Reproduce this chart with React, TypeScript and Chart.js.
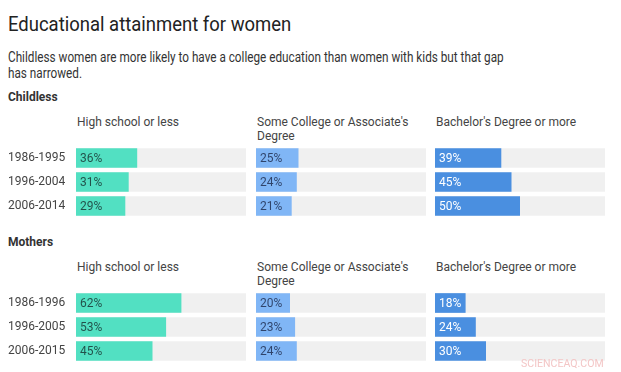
import React, { useEffect, useRef } from "react";
import { Chart, registerables } from "chart.js";
Chart.register(...registerables);

const title = "Educational attainment for women";
const subtitle = "Childless women are more likely to have a college education than women with kids but that gap has narrowed.";
const categories = ["High school or less", "Some College or Associate's Degree", "Bachelor's Degree or more"];
const childlessPeriods = ["1986-1995", "1996-2004", "2006-2014"];
const motherPeriods = ["1986-1996", "1996-2005", "2006-2015"];
const childlessHighSchool = [36, 31, 29];
const childlessSomeCollege = [25, 24, 21];
const childlessBachelor = [39, 45, 50];
const motherHighSchool = [62, 53, 45];
const motherSomeCollege = [20, 23, 24];
const motherBachelor = [18, 24, 30];

const colors = ["#52e0c2", "#80b6f6", "#4a8fe0"];
const textColors = ["rgba(20,40,40,0.78)", "rgba(20,30,60,0.75)", "#ffffff"];
const FONT = "Roboto, 'Noto Sans', sans-serif";

const valueLabelPlugin = {
  id: "valueLabels",
  afterDatasetsDraw(chart: any, _args: any, opts: any) {
    const meta = chart.getDatasetMeta(0);
    const ds = chart.data.datasets[0];
    const ctx = chart.ctx;
    ctx.save();
    ctx.font = `12px ${FONT}`;
    ctx.fillStyle = opts.color;
    ctx.textBaseline = "middle";
    ctx.textAlign = "left";
    meta.data.forEach((bar: any, i: number) => {
      ctx.fillText(ds.data[i] + "%", bar.base + 4, bar.y + 1);
    });
    ctx.restore();
  },
};

function Panel({ labels, values, colorIdx, showLabels, left, top, width }: any) {
  const ref = useRef<HTMLCanvasElement>(null);
  useEffect(() => {
    const chart = new Chart(ref.current!, {
      type: "bar",
      data: {
        labels,
        datasets: [
          { data: values, backgroundColor: colors[colorIdx], order: 1, grouped: false, categoryPercentage: 1, barPercentage: 0.82 } as any,
          { data: labels.map(() => 100), backgroundColor: "#f0f0f0", order: 2, grouped: false, categoryPercentage: 1, barPercentage: 0.82 } as any,
        ],
      },
      options: {
        indexAxis: "y",
        animation: false,
        responsive: false,
        devicePixelRatio: 1,
        layout: { padding: 0 },
        plugins: {
          legend: { display: false },
          tooltip: { enabled: false },
          valueLabels: { color: textColors[colorIdx] },
        } as any,
        scales: {
          x: { min: 0, max: 100, display: false },
          y: {
            display: showLabels,
            grid: { display: false },
            border: { display: false },
            afterFit: (s: any) => {
              if (showLabels) s.width = 68;
              s.paddingTop = 0;
              s.paddingBottom = 0;
            },
            ticks: { crossAlign: "far", padding: 0, color: "#444", font: { family: FONT, size: 12 } },
          },
        },
      },
      plugins: [valueLabelPlugin],
    });
    return () => chart.destroy();
  }, []);
  return (
    <canvas ref={ref} width={width} height={72}
      style={{ position: "absolute", left, top, width, height: 72 }} />
  );
}

function Group({ name, top, periods, series }: any) {
  const cols = [76, 256, 435];
  return (
    <>
      <div style={{ position: "absolute", left: 8, top: top, font: `bold 12px ${FONT}`, color: "#333", lineHeight: "14px" }}>{name}</div>
      {categories.map((c, i) => (
        <div key={c} style={{ position: "absolute", left: cols[i] + 1, top: top + 25, width: 160, font: `12px ${FONT}`, color: "#444", lineHeight: "14px" }}>{c}</div>
      ))}
      {series.map((vals: number[], i: number) => (
        <Panel key={i} labels={periods} values={vals} colorIdx={i} showLabels={i === 0}
          left={i === 0 ? 8 : cols[i]} top={top + 56} width={i === 0 ? 238 : 170} />
      ))}
    </>
  );
}

export default function App() {
  return (
    <div style={{ position: "fixed", left: 0, top: 0, width: 621, height: 372, background: "#fff", overflow: "hidden" }}>
      <div style={{ position: "absolute", left: 8, top: 10, font: `21px ${FONT}`, color: "#222", lineHeight: "28px", whiteSpace: "nowrap", transform: "scaleX(0.88)", transformOrigin: "0 0" }}>{title}</div>
      <div style={{ position: "absolute", left: 8, top: 49, width: 700, font: `15px ${FONT}`, color: "#333", lineHeight: "16px", transform: "scaleX(0.783)", transformOrigin: "0 0" }}>
        <div style={{ whiteSpace: "nowrap" }}>{subtitle.split(" gap ")[0] + " gap"}</div>
        <div style={{ whiteSpace: "nowrap" }}>{subtitle.split(" gap ")[1]}</div>
      </div>
      <Group name="Childless" top={90} periods={childlessPeriods} series={[childlessHighSchool, childlessSomeCollege, childlessBachelor]} />
      <Group name="Mothers" top={235} periods={motherPeriods} series={[motherHighSchool, motherSomeCollege, motherBachelor]} />
      <div style={{ position: "absolute", left: 521, top: 357, font: `11px ${FONT}`, color: "#f3c6c6", lineHeight: "13px", transform: "scaleX(0.96)", transformOrigin: "0 0" }}>SCIENCEAQ.COM</div>
    </div>
  );
}
